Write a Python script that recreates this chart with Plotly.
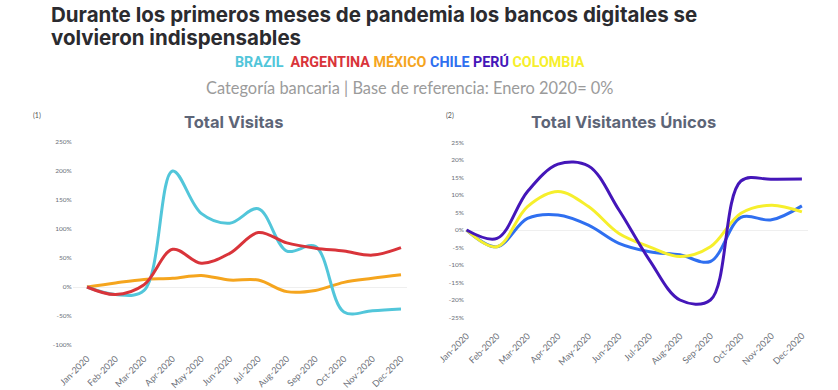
import plotly.graph_objects as go

months = ["Jan-2020", "Feb-2020", "Mar-2020", "Apr-2020", "May-2020", "Jun-2020",
          "Jul-2020", "Aug-2020", "Sep-2020", "Oct-2020", "Nov-2020", "Dec-2020"]

# Total Visitas (%)
brazil = [0, -13, -6, 200, 127, 110, 135, 62, 70, -43, -41, -38]
argentina = [0, -13, 4, 65, 41, 58, 94, 76, 67, 62, 55, 68]
mexico = [0, 7, 13, 15, 20, 12, 12, -8, -6, 8, 15, 21]

# Total Visitantes Únicos (%)
peru = [0, -2.4, 11, 18.8, 18.3, 5.7, -8.6, -20, -20, 14, 14.5, 14.6]
chile = [0, -4.8, 3.3, 4.3, 1.4, -3.8, -6.2, -7.1, -9, 3.6, 2.9, 6.9]
colombia = [0, -4.8, 6.7, 11, 6.7, -1, -4.8, -7.6, -4.8, 4.8, 7.1, 5.2]

left_ticks = [-100, -50, 0, 50, 100, 150, 200, 250]
right_ticks = [-25, -20, -15, -10, -5, 0, 5, 10, 15, 20, 25]

C_BRAZIL = "#52c6da"
C_ARG = "#d9343a"
C_MEX = "#f5a51e"
C_CHILE = "#2f6ff0"
C_PERU = "#4416b9"
C_COL = "#f6ef2c"

W, H = 838, 390
x = list(range(len(months)))

fig = go.Figure()

def line(y, color, xa, ya, name):
    return go.Scatter(x=x, y=y, mode="lines", name=name,
                      line=dict(color=color, width=3, shape="spline", smoothing=1.0),
                      xaxis=xa, yaxis=ya, showlegend=False, hoverinfo="skip")

fig.add_trace(line(mexico, C_MEX, "x", "y", "MÉXICO"))
fig.add_trace(line(brazil, C_BRAZIL, "x", "y", "BRAZIL"))
fig.add_trace(line(argentina, C_ARG, "x", "y", "ARGENTINA"))
fig.add_trace(line(chile, C_CHILE, "x2", "y2", "CHILE"))
fig.add_trace(line(colombia, C_COL, "x2", "y2", "COLOMBIA"))
fig.add_trace(line(peru, C_PERU, "x2", "y2", "PERÚ"))

def px_x(p):
    return p / W

def px_y(p):
    return 1 - p / H

tickfont = dict(family="Lato, Open Sans, sans-serif", size=9, color="#6b6f78")
yfont = dict(family="Lato, Open Sans, sans-serif", size=6.5, color="#6b6f78")

xaxis_common = dict(tickmode="array", tickvals=x, ticktext=months, tickangle=-45,
                    showgrid=False, zeroline=False, showline=False, ticks="",
                    tickfont=tickfont, fixedrange=True, automargin=False)

fig.update_layout(
    width=W, height=H,
    margin=dict(l=0, r=0, t=0, b=0, autoexpand=False),
    paper_bgcolor="white", plot_bgcolor="white",
    xaxis=dict(domain=[px_x(72.7), px_x(406.7)], range=[-0.5, 11.2], anchor="y", **xaxis_common),
    yaxis=dict(domain=[px_y(350.8), px_y(136.2)], range=[-110, 260], anchor="x",
               tickmode="array", tickvals=left_ticks, ticktext=[f"{v}%" for v in left_ticks],
               showgrid=False, zeroline=True, zerolinecolor="#efefef", zerolinewidth=1,
               showline=False, ticks="", tickfont=yfont, fixedrange=True, automargin=False),
    xaxis2=dict(domain=[px_x(465), px_x(808)], range=[-0.05, 11.2], anchor="y2", **xaxis_common),
    yaxis2=dict(domain=[px_y(328), px_y(135.5)], range=[-28, 27], anchor="x2",
                tickmode="array", tickvals=right_ticks, ticktext=[f"{v}%" for v in right_ticks],
                showgrid=False, zeroline=True, zerolinecolor="#efefef", zerolinewidth=1,
                showline=False, ticks="", tickfont=yfont, fixedrange=True, automargin=False),
)

title_font = dict(family="Inter, Open Sans, sans-serif", size=20.5, color="#2b2b2f")
annos = [
    dict(text="<b>Durante los primeros meses de pandemia los bancos digitales se</b>",
         x=px_x(49), y=px_y(15), xanchor="left", yanchor="middle", font=title_font),
    dict(text="<b>volvieron indispensables</b>",
         x=px_x(49), y=px_y(37), xanchor="left", yanchor="middle", font=title_font),
    dict(text=(f"<b><span style='color:{C_BRAZIL}'>BRAZIL</span>  "
               f"<span style='color:{C_ARG}'>ARGENTINA</span> "
               f"<span style='color:{C_MEX}'>MÉXICO</span> "
               f"<span style='color:{C_CHILE}'>CHILE</span> "
               f"<span style='color:{C_PERU}'>PERÚ</span> "
               f"<span style='color:{C_COL}'>COLOMBIA</span></b>"),
         x=px_x(410), y=px_y(62), xanchor="center", yanchor="middle",
         font=dict(family="Roboto, sans-serif", size=14.3)),
    dict(text="Categoría bancaria | Base de referencia: Enero 2020= 0%",
         x=px_x(409), y=px_y(87), xanchor="center", yanchor="middle",
         font=dict(family="Lato, sans-serif", size=16.4, color="#9b9b9b")),
    dict(text="(1)", x=px_x(37), y=px_y(115), xanchor="center", yanchor="middle",
         font=dict(family="Lato, sans-serif", size=7, color="#555")),
    dict(text="(2)", x=px_x(450), y=px_y(115), xanchor="center", yanchor="middle",
         font=dict(family="Lato, sans-serif", size=7, color="#555")),
    dict(text="<b>Total Visitas</b>", x=px_x(233), y=px_y(122), xanchor="center", yanchor="middle",
         font=dict(family="Inter, Open Sans, sans-serif", size=16.5, color="#5d6577")),
    dict(text="<b>Total Visitantes Únicos</b>", x=px_x(623), y=px_y(122), xanchor="center", yanchor="middle",
         font=dict(family="Inter, Open Sans, sans-serif", size=16.5, color="#5d6577")),
]
for a in annos:
    a.update(xref="paper", yref="paper", showarrow=False)
fig.update_layout(annotations=annos)

fig.write_html("out.html", config={"displayModeBar": False},
               post_script="document.body.style.margin='0px';document.body.style.padding='0px';document.body.style.overflow='hidden';")
